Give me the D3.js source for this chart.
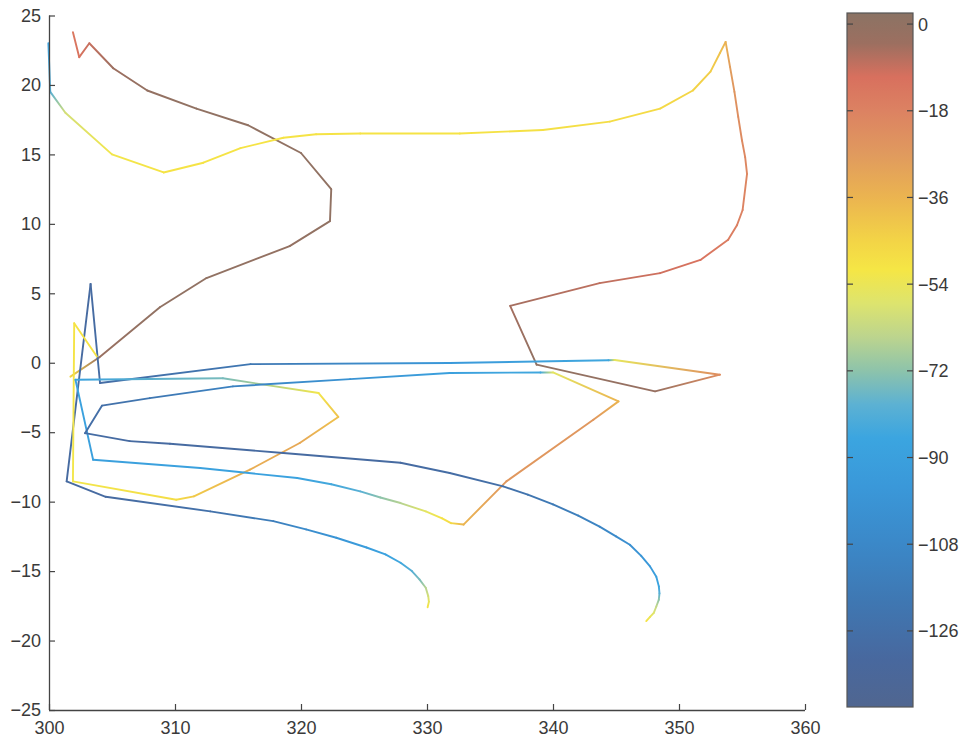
<!DOCTYPE html>
<html>
<head>
<meta charset="utf-8">
<script src="https://cdn.jsdelivr.net/npm/d3@7"></script>
<style>
  body { margin: 0; background: #fff; }
  text { font-family: "Liberation Sans", Arial, sans-serif; fill: #3a3a3a; }
</style>
</head>
<body>
<svg id="chart" width="971" height="740"></svg>
<script>
// axis ticks
var xTicks = [300, 310, 320, 330, 340, 350, 360];
var yTicks = [-25, -20, -15, -10, -5, 0, 5, 10, 15, 20, 25];
var cbTicks = [0, -18, -36, -54, -72, -90, -108, -126];
var cbRange = [-141.8, 2.3];

var cmapValues = [2.3, -4, -11, -18, -27, -36, -45, -51, -58, -65, -72, -79, -86, -96, -108, -120, -132, -141.8];
var cmapColors = ["#8b7364", "#9c6f60", "#d8705e", "#dc8262", "#e09a5e", "#ebb450", "#f3d446", "#f5e645",
                  "#dde46e", "#bcd48e", "#8dc3ab", "#5cb1d3", "#3ba5e0", "#3a98d9", "#3b88c8", "#3f77b2",
                  "#48689e", "#506690"];

// trajectories: [x, y, colour value]
var traj1 = [
  [301.9, 23.8, -14], [302.4, 22.0, -12], [303.2, 23.0, -9], [305.1, 21.2, -4], [307.8, 19.6, -1],
  [311.7, 18.3, 0], [315.8, 17.1, 0], [320.0, 15.1, 0], [322.4, 12.5, 0], [322.3, 10.2, 0],
  [319.1, 8.4, -1], [312.5, 6.1, 0], [308.8, 4.0, 0], [304.0, 0.4, -3], [301.7, -1.0, -45]
];
var traj2 = [
  [299.95, 23.0, -88], [300.1, 19.5, -80], [301.3, 18.0, -60], [305.0, 15.0, -52], [309.1, 13.7, -50],
  [312.25, 14.4, -50], [315.2, 15.45, -50], [318.6, 16.2, -50], [321.2, 16.45, -50], [324.7, 16.5, -50],
  [332.6, 16.5, -50], [339.2, 16.76, -49], [344.5, 17.36, -48], [348.5, 18.3, -47], [351.1, 19.6, -45],
  [352.5, 20.96, -43], [353.25, 22.3, -40], [353.7, 23.1, -35], [354.05, 21.3, -28], [354.4, 19.5, -25],
  [354.7, 17.7, -22], [355.0, 16.0, -21], [355.25, 14.8, -20], [355.4, 13.6, -20], [355.05, 11.0, -18],
  [354.6, 9.9, -17], [353.9, 8.85, -16], [351.7, 7.4, -12], [348.5, 6.45, -10], [343.7, 5.73, -8],
  [336.6, 4.1, -5], [338.7, -0.14, 0], [348.1, -2.06, -2], [353.25, -0.86, -22], [344.9, 0.2, -55],
  [344.4, 0.18, -85], [331.8, -0.02, -95], [316.0, -0.1, -120], [304.05, -1.46, -128], [303.3, 5.68, -130],
  [301.4, -8.54, -130], [304.5, -9.65, -130], [312.8, -10.7, -125], [317.8, -11.4, -115], [320.4, -12.0, -105],
  [322.8, -12.6, -98], [325.2, -13.3, -92], [326.7, -13.8, -88], [327.9, -14.4, -85], [328.8, -15.0, -80],
  [329.4, -15.6, -75], [329.9, -16.2, -66], [330.1, -16.8, -60], [330.15, -17.2, -55], [330.05, -17.6, -50]
];
var traj3 = [
  [303.8, 0.45, -50], [302.0, 2.85, -50], [301.9, -8.54, -52], [310.1, -9.86, -48], [311.5, -9.62, -42],
  [315.95, -7.7, -34], [319.9, -5.78, -32], [322.96, -3.9, -40], [321.4, -2.18, -52], [313.8, -1.12, -75],
  [302.1, -1.22, -88], [303.5, -6.98, -90], [312.0, -7.58, -89], [319.7, -8.3, -88], [322.4, -8.75, -84],
  [324.7, -9.26, -80], [326.3, -9.7, -72], [327.9, -10.1, -66], [329.9, -10.7, -56], [331.2, -11.2, -50],
  [331.9, -11.55, -47], [332.9, -11.65, -36], [336.3, -8.54, -26], [343.2, -4.1, -26], [345.2, -2.78, -36],
  [340.0, -0.7, -56], [339.0, -0.7, -85], [331.8, -0.74, -90], [323.9, -1.18, -100], [314.6, -1.7, -112],
  [308.0, -2.55, -120], [304.2, -3.09, -126], [302.86, -5.07, -128], [306.4, -5.64, -130], [309.6, -5.83, -130],
  [318.6, -6.5, -130], [327.9, -7.2, -130], [331.8, -7.94, -128], [336.05, -8.9, -126], [338.0, -9.5, -122],
  [340.0, -10.2, -118], [342.0, -11.0, -114], [343.7, -11.8, -110], [345.0, -12.5, -106], [346.1, -13.1, -102],
  [347.0, -13.9, -98], [347.7, -14.66, -95], [348.2, -15.4, -90], [348.4, -16.1, -86], [348.45, -16.6, -80],
  [348.4, -17.05, -72], [348.2, -17.55, -64], [348.0, -18.0, -58], [347.7, -18.3, -54], [347.4, -18.6, -50]
];
var trajectories = [traj1, traj2, traj3];

var svg = d3.select("#chart");
var x = d3.scaleLinear().domain([300, 360]).range([49, 805]);
var y = d3.scaleLinear().domain([-25, 25]).range([710, 15.5]);
var color = d3.scaleLinear().domain(cmapValues).range(cmapColors).interpolate(d3.interpolateRgb);

var defs = svg.append("defs");
var plot = svg.append("g");

// each segment gets its own gradient so colour runs along the line
var gid = 0;
trajectories.forEach(function(t) {
  for (var i = 0; i < t.length - 1; i++) {
    var a = t[i], b = t[i + 1];
    var id = "seg" + (gid++);
    var g = defs.append("linearGradient")
      .attr("id", id)
      .attr("gradientUnits", "userSpaceOnUse")
      .attr("x1", x(a[0])).attr("y1", y(a[1]))
      .attr("x2", x(b[0])).attr("y2", y(b[1]));
    g.append("stop").attr("offset", "0%").attr("stop-color", color(a[2]));
    g.append("stop").attr("offset", "100%").attr("stop-color", color(b[2]));
    plot.append("line")
      .attr("x1", x(a[0])).attr("y1", y(a[1]))
      .attr("x2", x(b[0])).attr("y2", y(b[1]))
      .attr("stroke", "url(#" + id + ")")
      .attr("stroke-width", 1.9)
      .attr("stroke-linecap", "round");
  }
});

// axes, matlab style: ticks inward, left and bottom only
var xAxis = svg.append("g").attr("transform", "translate(0,710)")
  .call(d3.axisBottom(x).tickValues(xTicks).tickSize(-6).tickPadding(11).tickFormat(d3.format("d")));
var yAxis = svg.append("g").attr("transform", "translate(49,0)")
  .call(d3.axisLeft(y).tickValues(yTicks).tickSize(-6).tickPadding(8)
    .tickFormat(function(d) { return d < 0 ? "\u2212" + Math.abs(d) : d; }));

[xAxis, yAxis].forEach(function(ax) {
  ax.select(".domain").attr("stroke", "#444").attr("stroke-width", 1.3);
  ax.selectAll(".tick line").attr("stroke", "#444").attr("stroke-width", 1.2);
  ax.selectAll(".tick text").attr("font-size", 18).attr("fill", "#3a3a3a")
    .style("font-family", "'Liberation Sans', Arial, sans-serif");
});
// matlab draws the axis as plain lines, no end caps
xAxis.select(".domain").attr("d", "M49,0.5H805");
yAxis.select(".domain").attr("d", "M0.5,710V15.5");

// colorbar
var cbX = 847, cbW = 66;
var cy = d3.scaleLinear().domain(cbRange).range([707, 13]);
var cg = defs.append("linearGradient").attr("id", "cbar")
  .attr("x1", 0).attr("y1", 1).attr("x2", 0).attr("y2", 0);
cmapValues.slice().reverse().forEach(function(v) {
  cg.append("stop")
    .attr("offset", (v - cbRange[0]) / (cbRange[1] - cbRange[0]))
    .attr("stop-color", color(v));
});
svg.append("rect")
  .attr("x", cbX).attr("y", cy(cbRange[1]))
  .attr("width", cbW).attr("height", cy(cbRange[0]) - cy(cbRange[1]))
  .attr("fill", "url(#cbar)")
  .attr("stroke", "#555").attr("stroke-width", 1.2);

var cbt = svg.append("g");
cbTicks.forEach(function(v) {
  cbt.append("line").attr("x1", cbX).attr("x2", cbX + 6)
    .attr("y1", cy(v)).attr("y2", cy(v)).attr("stroke", "#444").attr("stroke-width", 1.2);
  cbt.append("line").attr("x1", cbX + cbW - 6).attr("x2", cbX + cbW)
    .attr("y1", cy(v)).attr("y2", cy(v)).attr("stroke", "#444").attr("stroke-width", 1.2);
  cbt.append("text")
    .attr("x", 918).attr("y", cy(v) + 6.5)
    .attr("font-size", 18)
    .text(v < 0 ? "\u2212" + Math.abs(v) : v);
});
</script>
</body>
</html>
